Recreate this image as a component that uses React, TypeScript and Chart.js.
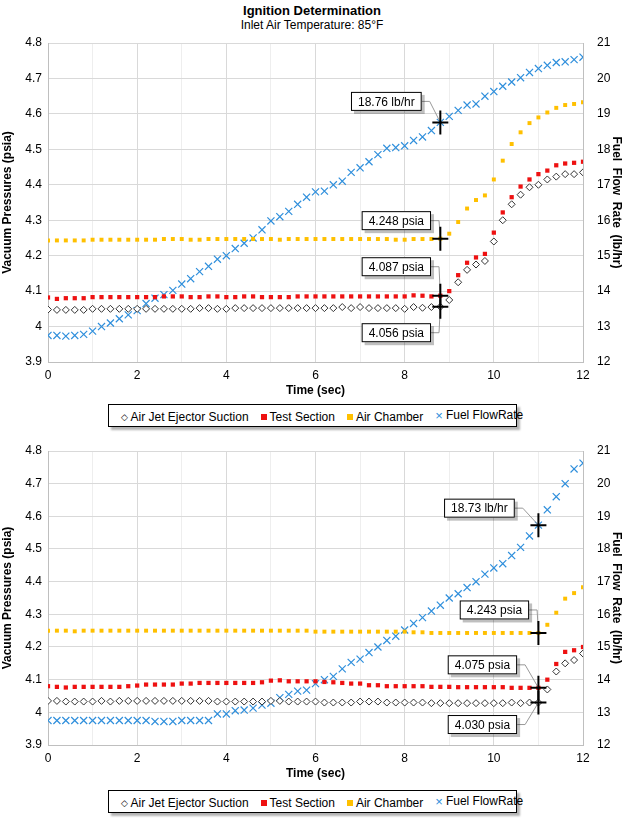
import React, { useEffect, useRef } from "react";
import { Chart, registerables } from "chart.js";
Chart.register(...registerables);

const TIME = [0,0.2,0.4,0.6,0.8,1,1.2,1.4,1.6,1.8,2,2.2,2.4,2.6,2.8,3,3.2,3.4,3.6,3.8,4,4.2,4.4,4.6,4.8,5,5.2,5.4,5.6,5.8,6,6.2,6.4,6.6,6.8,7,7.2,7.4,7.6,7.8,8,8.2,8.4,8.6,8.8,9,9.2,9.4,9.6,9.8,10,10.2,10.4,10.6,10.8,11,11.2,11.4,11.6,11.8,12];
const X_TICKS = [0, 2, 4, 6, 8, 10, 12];
const SERIES_NAMES = ["Air Jet Ejector Suction", "Test Section", "Air Chamber", "Fuel FlowRate"];

const TOP_EJECTOR = [4.048,4.047,4.047,4.047,4.047,4.050,4.050,4.050,4.050,4.050,
4.050,4.050,4.050,4.050,4.050,4.050,4.050,4.052,4.052,4.050,
4.050,4.052,4.052,4.052,4.052,4.052,4.052,4.052,4.052,4.052,
4.052,4.052,4.052,4.055,4.052,4.055,4.052,4.052,4.052,4.052,
4.050,4.055,4.053,4.055,4.056,4.075,4.125,4.160,4.175,4.185,
4.240,4.300,4.345,4.372,4.393,4.400,4.415,4.423,4.430,4.430,4.435];
const TOP_TEST = [4.082,4.078,4.080,4.080,4.080,4.083,4.083,4.083,4.083,4.083,
4.083,4.083,4.083,4.085,4.085,4.085,4.083,4.083,4.085,4.085,
4.083,4.083,4.085,4.085,4.083,4.083,4.083,4.083,4.085,4.085,
4.085,4.085,4.085,4.085,4.085,4.085,4.085,4.085,4.085,4.085,
4.085,4.088,4.087,4.085,4.087,4.100,4.145,4.180,4.195,4.205,
4.265,4.322,4.365,4.395,4.415,4.430,4.440,4.455,4.460,4.462,4.465];
const TOP_AIR = [4.243,4.243,4.243,4.243,4.243,4.245,4.245,4.245,4.245,4.245,
4.245,4.245,4.245,4.247,4.247,4.247,4.245,4.245,4.247,4.247,
4.247,4.247,4.247,4.247,4.247,4.247,4.245,4.247,4.247,4.247,
4.247,4.247,4.247,4.247,4.247,4.247,4.247,4.247,4.247,4.245,
4.245,4.247,4.247,4.247,4.248,4.262,4.295,4.333,4.357,4.370,
4.415,4.468,4.515,4.548,4.574,4.590,4.604,4.617,4.625,4.628,4.633];
const TOP_FUEL = [12.75,12.75,12.73,12.75,12.78,12.87,13.00,13.10,13.22,13.33,
13.45,13.65,13.80,13.90,14.02,14.20,14.35,14.55,14.70,14.90,
15.00,15.20,15.35,15.50,15.73,15.98,16.10,16.25,16.45,16.65,
16.80,16.82,17.00,17.10,17.35,17.48,17.65,17.85,18.03,18.05,
18.10,18.25,18.35,18.53,18.76,18.93,19.10,19.25,19.28,19.50,
19.63,19.78,19.90,20.02,20.17,20.28,20.37,20.45,20.47,20.53,20.60];

const BOT_EJECTOR = [4.035,4.035,4.033,4.033,4.033,4.033,4.035,4.033,4.035,4.035,
4.035,4.035,4.035,4.035,4.035,4.035,4.035,4.035,4.035,4.033,
4.033,4.033,4.033,4.033,4.033,4.035,4.035,4.033,4.033,4.033,
4.033,4.030,4.030,4.030,4.030,4.033,4.033,4.033,4.030,4.030,
4.030,4.030,4.030,4.028,4.028,4.028,4.028,4.028,4.028,4.028,
4.028,4.028,4.030,4.028,4.030,4.030,4.070,4.125,4.150,4.160,4.180];
const BOT_TEST = [4.080,4.078,4.076,4.078,4.078,4.078,4.078,4.078,4.078,4.080,
4.082,4.085,4.085,4.085,4.085,4.088,4.088,4.090,4.090,4.090,
4.090,4.090,4.090,4.090,4.092,4.097,4.098,4.095,4.095,4.095,
4.095,4.093,4.092,4.090,4.088,4.088,4.083,4.083,4.080,4.080,
4.080,4.080,4.080,4.078,4.078,4.078,4.077,4.077,4.077,4.077,
4.077,4.077,4.075,4.075,4.075,4.075,4.100,4.148,4.185,4.190,4.200];
const BOT_AIR = [4.250,4.250,4.250,4.248,4.250,4.250,4.250,4.250,4.250,4.250,
4.250,4.250,4.250,4.250,4.250,4.250,4.250,4.250,4.250,4.250,
4.250,4.250,4.250,4.250,4.250,4.250,4.250,4.250,4.250,4.250,
4.247,4.247,4.247,4.247,4.247,4.247,4.247,4.247,4.247,4.247,
4.247,4.245,4.245,4.243,4.243,4.243,4.243,4.243,4.243,4.243,
4.243,4.243,4.243,4.243,4.243,4.243,4.268,4.305,4.348,4.365,4.383];
const BOT_FUEL = [12.75,12.75,12.75,12.75,12.75,12.75,12.75,12.75,12.75,12.75,
12.75,12.75,12.72,12.72,12.72,12.75,12.75,12.75,12.75,12.95,
12.95,13.05,13.07,13.13,13.22,13.28,13.45,13.55,13.65,13.68,
13.88,14.00,14.10,14.33,14.53,14.63,14.83,15.00,15.20,15.33,
15.52,15.72,15.90,16.10,16.28,16.50,16.63,16.82,17.00,17.23,
17.42,17.55,17.80,18.05,18.40,18.73,19.20,19.60,20.00,20.45,20.63];

const TOP_MARK_TIME = 8.8;
const BOT_MARK_TIME = 11;
const TOP_LABELS = ["4.056 psia", "4.087 psia", "4.248 psia", "18.76 lb/hr"];
const BOT_LABELS = ["4.030 psia", "4.075 psia", "4.243 psia", "18.73 lb/hr"];

const FONT = "'Liberation Sans', Arial, sans-serif";
const COLORS = ["#333333", "#ee1111", "#ffc000", "#2f8fdc"];

type Ann = { series: number; label: string; dx: number; dy: number };

function annPlugin(markTime: number, anns: Ann[]) {
  return {
    id: "anns",
    afterDatasetsDraw(chart: any) {
      const ctx = chart.ctx;
      const xs = chart.scales.x;
      anns.forEach((a) => {
        const ds = chart.data.datasets[a.series];
        const pt = ds.data.find((p: any) => Math.abs(p.x - markTime) < 1e-6);
        const sc = chart.scales[ds.yAxisID];
        const px = xs.getPixelForValue(markTime);
        const py = sc.getPixelForValue(pt.y);
        ctx.save();
        ctx.font = `12px ${FONT}`;
        const w = ctx.measureText(a.label).width + 14;
        const h = 19;
        const cx = px + a.dx, cy = py + a.dy;
        // leader
        ctx.strokeStyle = "#999";
        ctx.lineWidth = 1;
        ctx.beginPath();
        ctx.moveTo(cx + w / 2, cy);
        ctx.lineTo(cx + w / 2 + 8, cy);
        ctx.lineTo(px, py);
        ctx.stroke();
        // box with shadow
        ctx.fillStyle = "rgba(0,0,0,0.25)";
        ctx.fillRect(cx - w / 2 + 3, cy - h / 2 + 3, w, h);
        ctx.fillStyle = "#fff";
        ctx.fillRect(cx - w / 2, cy - h / 2, w, h);
        ctx.strokeStyle = "#000";
        ctx.strokeRect(cx - w / 2 + 0.5, cy - h / 2 + 0.5, w - 1, h - 1);
        ctx.fillStyle = "#000";
        ctx.textAlign = "center";
        ctx.textBaseline = "middle";
        ctx.fillText(a.label, cx, cy + 1);
        // cross
        ctx.lineWidth = 2;
        ctx.beginPath();
        ctx.moveTo(px - 8, py); ctx.lineTo(px + 8, py);
        ctx.moveTo(px, py - 12); ctx.lineTo(px, py + 12);
        ctx.stroke();
        ctx.restore();
      });
    },
  };
}

function pairs(v: number[]) {
  return TIME.map((t, i) => ({ x: t, y: v[i] }));
}

function IgnChart(props: {
  height: number; padTop: number; series: number[][]; markTime: number; anns: Ann[];
}) {
  const ref = useRef<HTMLCanvasElement>(null);
  useEffect(() => {
    const grid = {
      color: (c: any) => (c.tick && Math.round(c.tick.value * 10) % 20 !== 0 && c.scale.axis === "x" ? "#eeeeee" : "#d9d9d9"),
      borderDash: [4, 3],
      drawTicks: false,
    };
    const chart = new Chart(ref.current!, {
      type: "scatter",
      data: {
        datasets: [
          { label: SERIES_NAMES[0], data: pairs(props.series[0]), yAxisID: "y", pointStyle: "rectRot", radius: 3.5, borderColor: "#333", backgroundColor: "#fff", borderWidth: 1 },
          { label: SERIES_NAMES[1], data: pairs(props.series[1]), yAxisID: "y", pointStyle: "rect", radius: 3, borderColor: COLORS[1], backgroundColor: COLORS[1], borderWidth: 0 },
          { label: SERIES_NAMES[2], data: pairs(props.series[2]), yAxisID: "y", pointStyle: "rect", radius: 2.8, borderColor: COLORS[2], backgroundColor: COLORS[2], borderWidth: 0 },
          { label: SERIES_NAMES[3], data: pairs(props.series[3]), yAxisID: "y2", pointStyle: "crossRot", radius: 5, borderColor: COLORS[3], backgroundColor: COLORS[3], borderWidth: 1.2 },
        ] as any,
      },
      options: {
        animation: false,
        responsive: false,
        layout: { padding: { top: props.padTop, left: 0, right: 0, bottom: 0 } },
        plugins: { legend: { display: false }, tooltip: { enabled: false } },
        scales: {
          x: {
            type: "linear", min: 0, max: 12,
            afterBuildTicks: (s: any) => { s.ticks = TIME.filter((t) => Number.isInteger(t)).map((v) => ({ value: v })); },
            ticks: { padding: 6, color: "#000", font: { family: FONT, size: 12 }, autoSkip: false, maxRotation: 0,
              callback: (v: any) => (X_TICKS.includes(Number(v)) ? String(v) : "") },
            grid: grid as any,
            border: { color: "#bfbfbf" },
            title: { display: true, text: "Time (sec)", color: "#000", font: { family: FONT, size: 12, weight: "bold" }, padding: { top: 2, bottom: 4 } },
            afterFit: (s: any) => { s.height = 40; },
          },
          y: {
            position: "left", min: 3.9, max: 4.8,
            ticks: { stepSize: 0.1, padding: 6, color: "#000", font: { family: FONT, size: 12 },
              callback: (v: any) => String(Math.round(Number(v) * 10) / 10) },
            grid: grid as any,
            border: { color: "#bfbfbf" },
            title: { display: true, text: "Vacuum Pressures (psia)", color: "#000", font: { family: FONT, size: 12, weight: "bold" }, padding: 0 },
            afterFit: (s: any) => { s.width = 48; },
          },
          y2: {
            position: "right", min: 12, max: 21,
            ticks: { stepSize: 1, padding: 6, color: "#000", font: { family: FONT, size: 12 } },
            grid: { display: false },
            border: { color: "#bfbfbf" },
            title: { display: true, text: "Fuel  Flow  Rate  (lb/hr)", color: "#000", font: { family: FONT, size: 12, weight: "bold" }, padding: 0 },
            afterFit: (s: any) => { s.width = 41; },
          },
        },
      } as any,
      plugins: [annPlugin(props.markTime, props.anns)],
    });
    return () => chart.destroy();
  }, []);
  return <canvas ref={ref} width={624} height={props.height} style={{ display: "block", width: 624, height: props.height }} />;
}

function Legend() {
  const item = (sym: React.ReactNode, text: string) => (
    <span style={{ display: "inline-flex", alignItems: "center", marginRight: 12 }}>
      {sym}<span style={{ marginLeft: 3 }}>{text}</span>
    </span>
  );
  const sq = (c: string) => <span style={{ display: "inline-block", width: 6, height: 6, background: c }} />;
  return (
    <div style={{ display: "flex", justifyContent: "center" }}>
      <div style={{ border: "1px solid #000", boxShadow: "3px 3px 2px rgba(0,0,0,0.3)", padding: "3px 0 3px 12px", fontFamily: FONT, fontSize: 12, width: 395, height: 15, lineHeight: "15px", whiteSpace: "nowrap" }}>
        {item(<span style={{ fontSize: 9 }}>◇</span>, SERIES_NAMES[0])}
        {item(sq(COLORS[1]), SERIES_NAMES[1])}
        {item(sq(COLORS[2]), SERIES_NAMES[2])}
        {item(<span style={{ color: COLORS[3], fontSize: 13 }}>×</span>, SERIES_NAMES[3])}
      </div>
    </div>
  );
}

export default function App() {
  const topAnns: Ann[] = [
    { series: 3, label: TOP_LABELS[3], dx: -54, dy: -21 },
    { series: 2, label: TOP_LABELS[2], dx: -44, dy: -18 },
    { series: 1, label: TOP_LABELS[1], dx: -44, dy: -29 },
    { series: 0, label: TOP_LABELS[0], dx: -44, dy: 26 },
  ];
  const botAnns: Ann[] = [
    { series: 3, label: BOT_LABELS[3], dx: -59, dy: -17 },
    { series: 2, label: BOT_LABELS[2], dx: -44, dy: -23 },
    { series: 1, label: BOT_LABELS[1], dx: -56, dy: -23 },
    { series: 0, label: BOT_LABELS[0], dx: -56, dy: 22 },
  ];
  return (
    <div style={{ position: "absolute", left: 0, top: 0, width: 624, height: 818, background: "#fff" }}>
      <div style={{ position: "absolute", top: 3, width: 624, textAlign: "center", fontFamily: FONT }}>
        <div style={{ fontSize: 13, fontWeight: "bold", lineHeight: "15px" }}>Ignition Determination</div>
        <div style={{ fontSize: 12, lineHeight: "14px" }}>Inlet Air Temperature: 85°F</div>
      </div>
      <div style={{ position: "absolute", top: 0, left: 0 }}>
        <IgnChart height={402} padTop={43} series={[TOP_EJECTOR, TOP_TEST, TOP_AIR, TOP_FUEL]} markTime={TOP_MARK_TIME} anns={topAnns} />
      </div>
      <div style={{ position: "absolute", top: 404, left: 0, width: 624 }}><Legend /></div>
      <div style={{ position: "absolute", top: 432, left: 0 }}>
        <IgnChart height={353} padTop={19} series={[BOT_EJECTOR, BOT_TEST, BOT_AIR, BOT_FUEL]} markTime={BOT_MARK_TIME} anns={botAnns} />
      </div>
      <div style={{ position: "absolute", top: 790, left: 0, width: 624 }}><Legend /></div>
    </div>
  );
}
